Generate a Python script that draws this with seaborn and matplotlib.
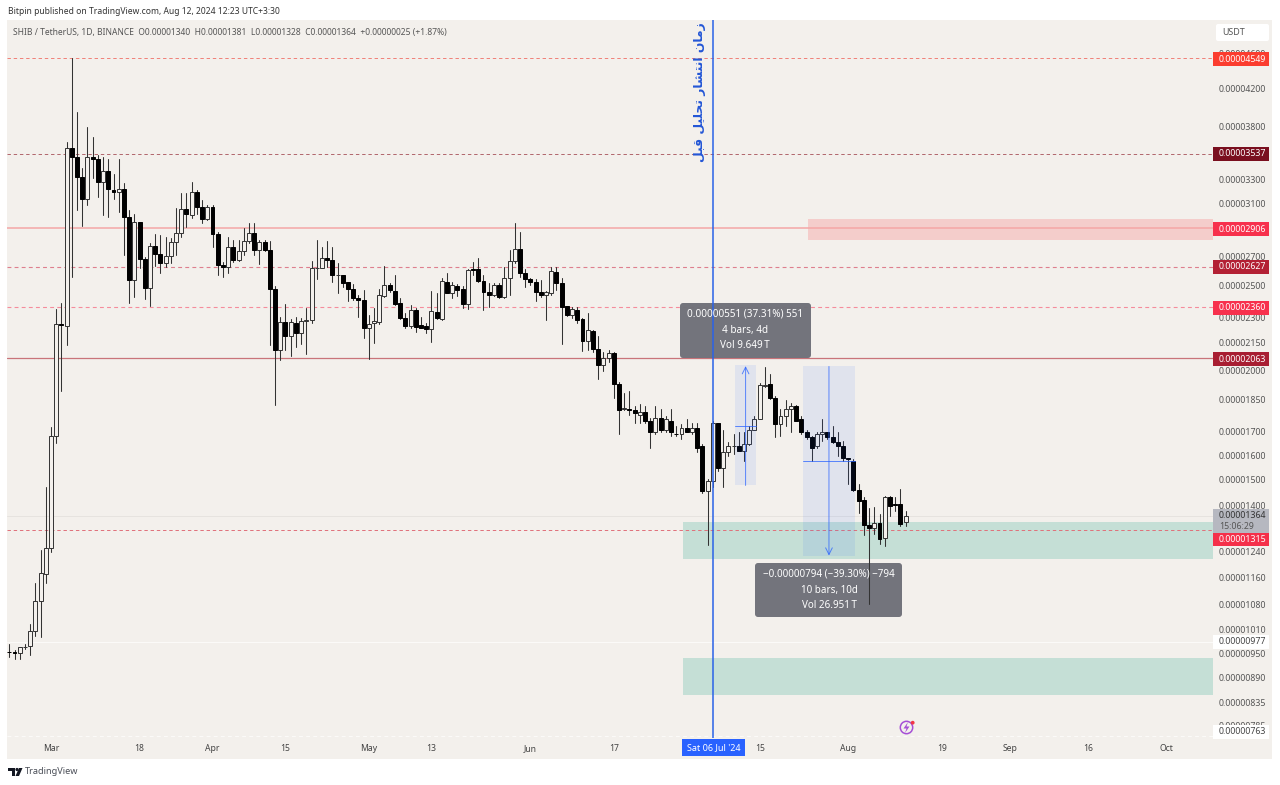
import numpy as np
import pandas as pd
import matplotlib
matplotlib.use("Agg")
import matplotlib.pyplot as plt
import matplotlib.dates as mdates
import matplotlib.transforms as mtransforms
from matplotlib.patches import Rectangle, FancyBboxPatch, Circle, Polygon
from matplotlib.ticker import NullLocator
import seaborn as sns

W, H = 1280, 785

# daily candles, prices in units of 0.00000001
first_day = "2024-02-22"
opens = [
    954, 953, 950, 965, 968, 1007, 1090, 1170, 1253, 1684,
    2257, 2245, 3588, 3504, 3324, 3137, 3504, 3486, 3281, 3377,
    3212, 3196, 3221, 2992, 2534, 2953, 2678, 2481, 2772, 2714,
    2650, 2699, 2801, 2868, 3055, 3008, 3196, 3071, 2976, 3071,
    2861, 2636, 2622, 2764, 2671, 2735, 2809, 2868, 2743, 2801,
    2743, 2475, 2107, 2268, 2186, 2262, 2204, 2274, 2280, 2615,
    2615, 2685, 2671, 2567, 2567, 2521, 2475, 2416, 2403, 2233,
    2262, 2268, 2429, 2501, 2461, 2385, 2292, 2245, 2342, 2250,
    2245, 2227, 2329, 2286, 2521, 2448, 2494, 2475, 2379, 2608,
    2608, 2527, 2455, 2435, 2501, 2422, 2547, 2664, 2750, 2581,
    2540, 2521, 2455, 2435, 2448, 2588, 2514, 2366, 2310, 2342,
    2286, 2158, 2216, 2113, 2026, 2068, 2091, 1931, 1806, 1808,
    1799, 1780, 1794, 1748, 1698, 1766, 1711, 1752, 1693, 1689,
    1720, 1702, 1720, 1637, 1457, 1496, 1739, 1548, 1611, 1637,
    1637, 1615, 1649, 1711, 1761, 1921, 1931, 1857, 1734, 1775,
    1808, 1822, 1757, 1698, 1676, 1637, 1693, 1698, 1676, 1658,
    1637, 1589, 1577, 1461, 1423, 1332, 1321, 1339, 1287, 1431,
    1407, 1407, 1340,
]
highs = [
    973, 958, 966, 973, 1026, 1143, 1247, 1469, 1724, 2348,
    2385, 3646, 4549, 3946, 3404, 3793, 3694, 3522, 3504, 3486,
    3351, 3486, 3272, 3047, 3016, 2953, 2692, 2794, 2861, 2853,
    2838, 2831, 3063, 3187, 3187, 3281, 3212, 3129, 3087, 3087,
    2876, 2657, 2838, 2816, 2816, 2906, 2945, 2945, 2816, 2816,
    2809, 2494, 2298, 2379, 2286, 2298, 2292, 2354, 2664, 2816,
    2764, 2809, 2764, 2650, 2567, 2521, 2507, 2435, 2468, 2310,
    2354, 2475, 2629, 2514, 2567, 2416, 2323, 2372, 2354, 2298,
    2262, 2461, 2448, 2547, 2581, 2521, 2507, 2494, 2608, 2657,
    2685, 2567, 2514, 2514, 2514, 2622, 2743, 2945, 2876, 2608,
    2547, 2540, 2534, 2461, 2622, 2622, 2547, 2366, 2360, 2360,
    2292, 2323, 2221, 2186, 2096, 2107, 2096, 1941, 1886, 1896,
    1822, 1832, 1822, 1766, 1818, 1808, 1775, 1808, 1725, 1734,
    1761, 1743, 1743, 1645, 1504, 1748, 1743, 1711, 1658, 1689,
    1698, 1698, 1729, 1775, 1936, 2015, 1978, 1867, 1808, 1847,
    1837, 1827, 1775, 1707, 1680, 1702, 1761, 1702, 1729, 1698,
    1662, 1589, 1585, 1484, 1431, 1393, 1396, 1371, 1438, 1435,
    1431, 1465, 1381,
]
lows = [
    940, 935, 935, 960, 945, 994, 991, 1143, 1238, 1650,
    1896, 2135, 2554, 3047, 2921, 3087, 3315, 3153, 3008, 2992,
    3137, 3031, 2706, 2385, 2422, 2615, 2410, 2366, 2629, 2581,
    2622, 2650, 2706, 2838, 2913, 2984, 3016, 2945, 2968, 2764,
    2567, 2554, 2581, 2657, 2664, 2706, 2794, 2706, 2643, 2735,
    2135, 1827, 2052, 2107, 2074, 2124, 2141, 2085, 2262, 2540,
    2615, 2622, 2521, 2448, 2488, 2397, 2403, 2298, 2175, 2058,
    2146, 2257, 2422, 2455, 2372, 2286, 2233, 2233, 2210, 2233,
    2204, 2152, 2286, 2280, 2448, 2416, 2429, 2354, 2348, 2567,
    2521, 2342, 2360, 2429, 2416, 2419, 2441, 2650, 2554, 2488,
    2501, 2397, 2422, 2280, 2441, 2468, 2141, 2304, 2292, 2262,
    2102, 2107, 2096, 1957, 1994, 2042, 1857, 1693, 1799, 1780,
    1739, 1739, 1739, 1628, 1693, 1698, 1698, 1684, 1680, 1667,
    1698, 1693, 1611, 1446, 1263, 1469, 1536, 1469, 1598, 1606,
    1615, 1577, 1641, 1707, 1757, 1916, 1852, 1676, 1684, 1729,
    1698, 1748, 1693, 1671, 1577, 1632, 1662, 1671, 1650, 1598,
    1573, 1484, 1457, 1375, 1298, 1081, 1301, 1267, 1260, 1364,
    1382, 1328, 1328,
]
closes = [
    953, 951, 965, 966, 1007, 1090, 1173, 1253, 1684, 2257,
    2250, 3588, 3504, 3324, 3137, 3504, 3486, 3281, 3377, 3221,
    3196, 3221, 2992, 2534, 2953, 2678, 2481, 2772, 2714, 2650,
    2699, 2801, 2868, 3055, 3016, 3196, 3071, 2976, 3071, 2861,
    2636, 2622, 2764, 2671, 2735, 2809, 2868, 2743, 2801, 2743,
    2475, 2107, 2268, 2186, 2268, 2204, 2274, 2280, 2615, 2619,
    2685, 2671, 2567, 2570, 2514, 2475, 2416, 2403, 2233, 2257,
    2274, 2441, 2501, 2468, 2379, 2292, 2245, 2342, 2239, 2233,
    2227, 2335, 2292, 2527, 2448, 2501, 2468, 2379, 2602, 2602,
    2527, 2455, 2435, 2501, 2422, 2547, 2664, 2750, 2581, 2540,
    2521, 2455, 2435, 2455, 2594, 2514, 2360, 2310, 2348, 2280,
    2158, 2221, 2113, 2026, 2068, 2091, 1931, 1803, 1810, 1799,
    1785, 1794, 1748, 1698, 1766, 1711, 1757, 1698, 1689, 1720,
    1702, 1720, 1632, 1457, 1496, 1739, 1548, 1611, 1637, 1640,
    1619, 1649, 1711, 1761, 1926, 1926, 1857, 1734, 1775, 1808,
    1822, 1752, 1698, 1676, 1632, 1693, 1698, 1676, 1658, 1637,
    1589, 1585, 1461, 1419, 1332, 1321, 1339, 1284, 1431, 1400,
    1403, 1335, 1364,
]

# price axis labels
price_ticks = [4600, 4200, 3800, 3500, 3300, 3100, 2700, 2500, 2300, 2150, 2000, 1850,
               1700, 1600, 1500, 1400, 1240, 1160, 1080, 1010, 950, 890, 835, 785]

# time axis labels
date_ticks = ["2024-03-01", "2024-03-18", "2024-04-01", "2024-04-15", "2024-05-01", "2024-05-13",
              "2024-06-01", "2024-06-17", "2024-07-15", "2024-08-01", "2024-08-19", "2024-09-01",
              "2024-09-16", "2024-10-01"]
date_labels = ["Mar", "18", "Apr", "15", "May", "13", "Jun", "17", "15", "Aug", "19", "Sep", "16", "Oct"]

# drawn levels: price, colour, linestyle, width
level_prices = [4549, 3537, 2906, 2627, 2360, 2063, 1315, 977, 763]
level_colors = ["#f08078", "#b0656c", "#f4a6a6", "#de7f8e", "#f58c9c", "#c9747a", "#e0707a", "#fbfaf8", "#fbfaf8"]
level_styles = ["--", "--", "-", "--", "--", "-", "--", "-", "--"]
level_widths = [0.7, 0.7, 1.1, 0.8, 0.8, 0.9, 0.7, 0.8, 0.8]

# tags on the price scale: text, centre row, fill, text colour
tag_texts = ["0.00004549", "0.00003537", "0.00002906", "0.00002627", "0.00002360", "0.00002063",
             "0.00001315", "0.00000977", "0.00000763"]
tag_rows = [59, 154, 229, 267, 308, 359, 539, 642, 732]
tag_fills = ["#fb3d2f", "#7a0f1f", "#f7314d", "#b32034", "#f7314d", "#a81e32", "#f5304a", "#ffffff", "#ffffff"]
tag_inks = ["white"] * 7 + ["#444444", "#444444"]

sns.set_theme(style="white")
plt.rcParams["font.family"] = ["Noto Sans", "DejaVu Sans"]

BG = "#f3f0ec"
BLUE = "#2962ff"

fig = plt.figure(figsize=(W / 100, H / 100), dpi=100, facecolor="white")
ax = fig.add_axes([7 / W, 1 - 738 / H, 1206 / W, 718 / H])
ax.set_facecolor(BG)
ax.set_yscale("log")

start = mdates.date2num(pd.Timestamp(first_day))
xs = start + np.arange(len(opens))
o = np.array(opens) * 1e-8
h = np.array(highs) * 1e-8
l = np.array(lows) * 1e-8
c = np.array(closes) * 1e-8

screen = mtransforms.IdentityTransform()

def day(i):
    return start + i

# zones
for x0, top, bottom, col in [(153.3, 2976, 2816, "#f4cdcb"), (129.3, 1343, 1218, "#c5dfd6"), (129.3, 938, 851, "#c5dfd6")]:
    ax.add_patch(Rectangle((day(x0), bottom * 1e-8), 235 - x0, (top - bottom) * 1e-8, color=col, lw=0, zorder=1))

# levels
for p, col, ls, lw in zip(level_prices, level_colors, level_styles, level_widths):
    ax.axhline(p * 1e-8, color=col, ls=ls, lw=lw, zorder=2, dashes=(3.5, 2.9) if ls == "--" else (None, None))
ax.axhline(1364e-8, color="#e6e3df", lw=0.7, zorder=1.5)

# measure tooltips sit above the levels but below the candles
ax.add_patch(FancyBboxPatch((680, H - 358), 131, 55, boxstyle="round,pad=0,rounding_size=3", facecolor="#6f7078",
                            edgecolor="none", alpha=0.97, transform=screen, zorder=2.5))
ax.add_patch(FancyBboxPatch((755, H - 617), 147, 54, boxstyle="round,pad=0,rounding_size=3", facecolor="#6f7078",
                            edgecolor="none", alpha=0.97, transform=screen, zorder=2.5))

# wicks
wicks = pd.DataFrame({
    "x": np.repeat(xs, 2),
    "price": np.column_stack([l, h]).ravel(),
    "candle": np.repeat(np.arange(len(xs)), 2),
})
sns.lineplot(data=wicks, x="x", y="price", units="candle", estimator=None, sort=False,
             color="#333333", linewidth=0.75, ax=ax, zorder=3)

# bodies
up = c >= o
ax.bar(xs, np.abs(c - o), bottom=np.minimum(o, c), width=0.76,
       color=np.where(up, BG, "#000000").tolist(), edgecolor=np.where(up, "#333333", "#000000").tolist(),
       linewidth=0.7, zorder=4)

# measure tools
for x0, x1, lo, hi in [(139.3, 143.3, 1477, 2028), (152.3, 162.3, 1226, 2020)]:
    ax.add_patch(Rectangle((day(x0), lo * 1e-8), x1 - x0, (hi - lo) * 1e-8, color=BLUE, alpha=0.09, lw=0, zorder=5))
for x0, x1, mid in [(139.3, 143.3, 1727), (152.3, 162.3, 1573)]:
    ax.plot([day(x0), day(x1)], [mid * 1e-8, mid * 1e-8], color=BLUE, lw=0.7, alpha=0.75, zorder=5)
ax.annotate("", xy=(day(141.3), 2022e-8), xytext=(day(141.3), 1477e-8), zorder=5,
            arrowprops=dict(arrowstyle="->", color=BLUE, lw=0.7, alpha=0.75, shrinkA=0, shrinkB=0))
ax.annotate("", xy=(day(157.3), 1228e-8), xytext=(day(157.3), 2020e-8), zorder=5,
            arrowprops=dict(arrowstyle="->", color=BLUE, lw=0.7, alpha=0.75, shrinkA=0, shrinkB=0))

# publish time line
ax.axvline(mdates.date2num(pd.Timestamp("2024-07-06")), color="#2a62e8", lw=1.1, zorder=7)

ax.set_xlim(start - 0.44, start + 231.0)
ax.set_ylim(759.8e-8, 5027.4e-8)
ax.set_xlabel("")
ax.set_ylabel("")
for s in ax.spines.values():
    s.set_visible(False)

ax.yaxis.tick_right()
ax.yaxis.set_minor_locator(NullLocator())
ax.set_yticks([p * 1e-8 for p in price_ticks])
ax.set_yticklabels([f"{p * 1e-8:.8f}" for p in price_ticks], fontsize=6.3, color="#555555")
ax.tick_params(axis="y", length=0, pad=4)
ax.set_xticks([mdates.date2num(pd.Timestamp(d)) for d in date_ticks])
ax.set_xticklabels(date_labels, fontsize=6.2, color="#444444")
ax.tick_params(axis="x", length=0, pad=4.5)
for t, lab in zip(ax.get_xticklabels(), date_labels):
    if lab.isalpha():
        t.set_fontweight("bold")
ax.set_zorder(2)
ax.patch.set_visible(False)

def box(x0, y0, x1, y1, color, radius=0, alpha=1.0, z=10):
    style = f"round,pad=0,rounding_size={radius}" if radius else "square,pad=0"
    fig.add_artist(FancyBboxPatch((x0, H - y1), x1 - x0, y1 - y0, boxstyle=style, facecolor=color,
                                  edgecolor="none", alpha=alpha, transform=screen, zorder=z))

def label(x, y, text, size=6.3, color="#444444", ha="left", z=11, **kw):
    fig.text(x / W, 1 - y / H, text, fontsize=size, color=color, ha=ha, va="center", zorder=z, **kw)

# panel behind the chart
fig.add_artist(Rectangle((7, H - 759), 1265, 739, facecolor=BG, edgecolor="none", transform=screen, zorder=-1))

# header and legend
label(8, 11, "Bitpin published on TradingView.com, Aug 12, 2024 12:23 UTC+3:30", size=6.15, color="#333333")
label(13, 32, "SHIB / TetherUS, 1D, BINANCE  O0.00001340  H0.00001381  L0.00001328  C0.00001364  +0.00000025 (+1.87%)",
      size=6.1, color="#555555")

# vertical note, glyphs given in drawn order
note = "\ufeaf\ufee3\ufe8e\ufee5 \ufe8d\ufee7\ufe98\ufeb8\ufe8e\ufead \ufe97\ufea4\ufee0\ufef4\ufede \ufed7\ufe92\ufede"[::-1]
fig.text(700 / W, 1 - 92.5 / H, note, fontsize=8.9, color="#2356d6", rotation=90, ha="center", va="center",
         family="DejaVu Sans", fontweight="bold", zorder=11)

# unit button
box(1216, 24, 1269, 41, "#ffffff", radius=2)
label(1222, 32.5, "USDT", size=6.4, color="#555555")

# price tags
for text, row, fill, ink in zip(tag_texts, tag_rows, tag_fills, tag_inks):
    box(1213, row - 7, 1269, row + 7, fill)
    label(1219, row, text, color=ink)

# last price tag
box(1213, 509, 1269, 533, "#b6b8c0")
label(1219, 516, "0.00001364", color="#333333")
label(1219, 526.5, "15:06:29", color="#555555")

# date tag
box(682, 739, 745, 756, BLUE)
label(713.5, 747.5, "Sat 06 Jul '24", size=6.5, color="white", ha="center", fontweight="bold")

# measure tooltip texts
for y, t in zip([314, 330, 346], ["0.00000551 (37.31%) 551", "4 bars, 4d", "Vol 9.649\u2009T"]):
    label(745, y, t, size=7.15, color="white", ha="center")
for y, t in zip([574, 590, 606], ["\u22120.00000794 (\u221239.30%) \u2212794", "10 bars, 10d", "Vol 26.951\u2009T"]):
    label(829, y, t, size=7.1, color="white", ha="center")

# lightning badge
fig.add_artist(Circle((906.5, H - 727.5), 6.2, facecolor="none", edgecolor="#a64fd6", lw=1.1, transform=screen, zorder=11))
fig.add_artist(Polygon([(908, H - 722), (903.5, H - 728.5), (906.5, H - 728.5), (905, H - 733), (909.5, H - 726.5), (906.5, H - 726.5)],
                       closed=True, facecolor="#a64fd6", edgecolor="none", transform=screen, zorder=11))
fig.add_artist(Circle((912.7, H - 722.7), 1.9, facecolor="#f23645", edgecolor="none", transform=screen, zorder=12))

# TradingView logo
fig.add_artist(Polygon([(8, H - 768), (15, H - 768), (15, H - 776), (11.5, H - 776), (11.5, H - 771), (8, H - 771)],
                       closed=True, facecolor="#131722", edgecolor="none", transform=screen, zorder=11))
fig.add_artist(Circle((17, H - 769.5), 1.6, facecolor="#131722", edgecolor="none", transform=screen, zorder=11))
fig.add_artist(Polygon([(19, H - 768), (22.5, H - 768), (19, H - 776), (15.5, H - 776)],
                       closed=True, facecolor="#131722", edgecolor="none", transform=screen, zorder=11))
label(25, 772, "TradingView", size=6.6, color="#4a4e57")

fig.savefig("out.png", dpi=100, facecolor="white")
